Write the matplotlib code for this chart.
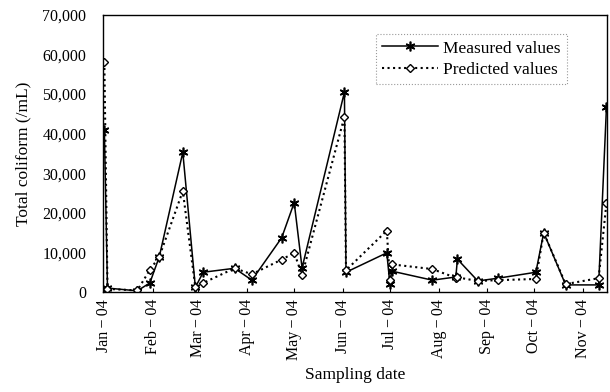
import numpy as np
import pandas as pd
import matplotlib.pyplot as plt
from matplotlib.ticker import FuncFormatter

plt.rcParams['font.family'] = ['Liberation Serif', 'DejaVu Serif']

# sampling dates and values
dates = pd.to_datetime([
    "2004-01-01", "2004-01-03", "2004-01-22", "2004-01-30", "2004-02-05",
    "2004-02-20", "2004-02-28", "2004-03-04", "2004-03-24", "2004-04-04",
    "2004-04-23", "2004-05-01", "2004-05-06", "2004-06-02", "2004-06-03",
    "2004-06-29", "2004-07-01", "2004-07-02", "2004-07-28", "2004-08-12",
    "2004-08-13", "2004-08-26", "2004-09-08", "2004-10-02", "2004-10-07",
    "2004-10-21", "2004-11-11", "2004-11-16",
])
measured = [41000, 1000, 300, 2300, 8900,
            35300, 1200, 5000, 6000, 3000,
            13700, 22600, 6100, 50500, 5000,
            9900, 2000, 5300, 3000, 3800,
            8300, 2800, 3500, 5000, 15000,
            1800, 1800, 46800]
predicted = [58000, 800, 400, 5600, 8900,
             25500, 1200, 2300, 6000, 4500,
             8200, 9900, 4300, 44300, 5500,
             15500, 3000, 7000, 5800, 3600,
             3700, 2800, 3000, 3300, 15000,
             2000, 3500, 22600]

month_ticks = pd.date_range("2004-01-01", "2004-11-01", freq="MS")
month_labels = [d.strftime("%b") + "\u2009\u2212\u200904" for d in month_ticks]

fig = plt.figure(figsize=(6.1, 3.92), dpi=100)
ax = fig.add_axes([0.169, 0.255, 0.826, 0.707])

ax.plot(dates, measured, color='black', linestyle='-', linewidth=1.1,
        marker=(6, 2, 0), markersize=7, markeredgewidth=1.2,
        label='Measured values')
ax.plot(dates, predicted, color='black', linestyle=':', linewidth=1.5,
        marker='D', markersize=4.5, markerfacecolor='white',
        markeredgewidth=1.0, label='Predicted values')

ax.set_ylim(0, 70000)
ax.set_yticks(np.arange(0, 70001, 10000))
ax.yaxis.set_major_formatter(FuncFormatter(lambda v, p: f"{int(v):,}"))
ax.set_xlim(pd.Timestamp("2004-01-01") - pd.Timedelta(days=0.8),
            pd.Timestamp("2004-11-16") + pd.Timedelta(days=0.3))
ax.set_xticks(month_ticks)
ax.set_xticklabels(month_labels, rotation=90)

ax.tick_params(axis='both', direction='in', labelsize=11.5, length=3)
ax.tick_params(axis='y', length=0, pad=12)
ax.tick_params(axis='x', pad=5)
for s in ax.spines.values():
    s.set_linewidth(1.0)

ax.set_ylabel("Total coliform (/mL)", fontsize=12.5, labelpad=8)
ax.set_xlabel("Sampling date", fontsize=12.5, labelpad=5)

leg = ax.legend(loc='upper right', bbox_to_anchor=(0.92, 0.93),
                fontsize=12.5, frameon=True, fancybox=False,
                handlelength=3.2, handletextpad=0.3, borderpad=0.35,
                labelspacing=0.3, borderaxespad=0)
leg.get_frame().set_edgecolor('gray')
leg.get_frame().set_linestyle(':')
leg.get_frame().set_linewidth(0.8)

fig.savefig("out.png", dpi=100)
